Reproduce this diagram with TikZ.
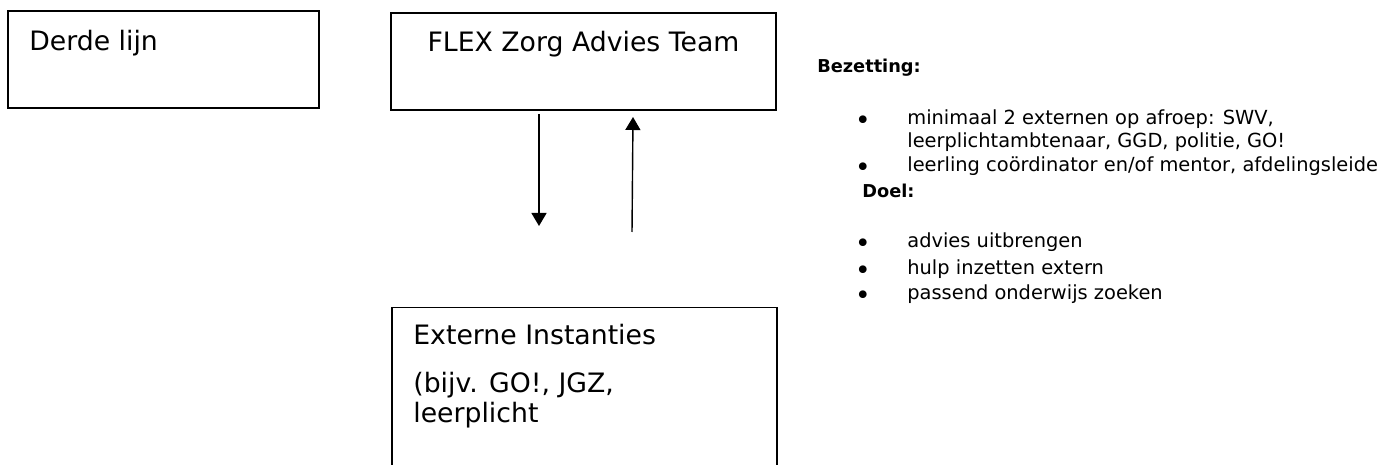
\documentclass[tikz,border=0pt]{standalone}
\usepackage{fontspec}
\setmainfont{DejaVu Sans}
\usetikzlibrary{arrows.meta, positioning}

\tikzset{
  box/.style={draw, line width=1pt, inner sep=0pt},
  boxtext/.style={anchor=base west, inner sep=0pt, font=\fontsize{15.2}{18}\selectfont},
  listtext/.style={anchor=base west, inner sep=0pt, font=\fontsize{11.05}{13}\selectfont},
  head/.style={listtext, font=\fontsize{10.1}{12}\selectfont\bfseries},
  dot/.style={anchor=base, inner sep=0pt, yshift=-0.1cm, font=\fontsize{15}{18}\selectfont},
}

\begin{document}
\begin{tikzpicture}[x=0.02cm, y=-0.02cm, >={Triangle[width=3mm,length=2.6mm]}]
    \clip (0,0) rectangle (1382,465);
    % boxes
    \node[box, minimum width=6.22cm, minimum height=1.94cm] (derde) at (163.5,59.5) {};
    \node[box, minimum width=7.7cm, minimum height=1.94cm] (flex) at (583.5,61.5) {};
    \node[box, minimum width=7.7cm, minimum height=3.7cm] (ext) at (584.5,400) {};
    \node[boxtext] (derdetxt) at (29,51) {Derde lijn};
    \node[boxtext, anchor=base] (flextxt) at (583.5,52) {FLEX Zorg Advies Team};
    \node[boxtext] (ext1) at (413,345) {Externe Instanties};
    \node[boxtext] (ext2) at (413,393) {(bijv. GO!, JGZ,};
    \node[boxtext] (ext3) at (413,423) {leerplicht};
    % arrows
    \coordinate (dtop) at (539,114);
    \coordinate (dbot) at (539,226);
    \coordinate (ubot) at (632,232);
    \coordinate (utop) at (633,117);
    \draw[->, line width=0.8pt] (dtop) -- (dbot);
    \draw[->, line width=0.8pt] (ubot) -- (utop);
    % bezetting / doel
    \node[head] (bez) at (817,73) {Bezetting:};
    \node[dot] (b1) at (863,125) {•};
    \node[listtext] (l1) at (907,125) {minimaal 2 externen op afroep: SWV,};
    \node[listtext] (l2) at (907,148) {leerplichtambtenaar, GGD, politie, GO!};
    \node[dot] (b2) at (863,172) {•};
    \node[listtext] (l3) at (907,172) {leerling coördinator en/of mentor, afdelingsleide};
    \node[head] (doel) at (862,198) {Doel:};
    \node[dot] (b3) at (863,248) {•};
    \node[listtext] (d1) at (907,248) {advies uitbrengen};
    \node[dot] (b4) at (863,275) {•};
    \node[listtext] (d2) at (907,275) {hulp inzetten extern};
    \node[dot] (b5) at (863,300) {•};
    \node[listtext] (d3) at (907,300) {passend onderwijs zoeken};
\end{tikzpicture}
\end{document}
